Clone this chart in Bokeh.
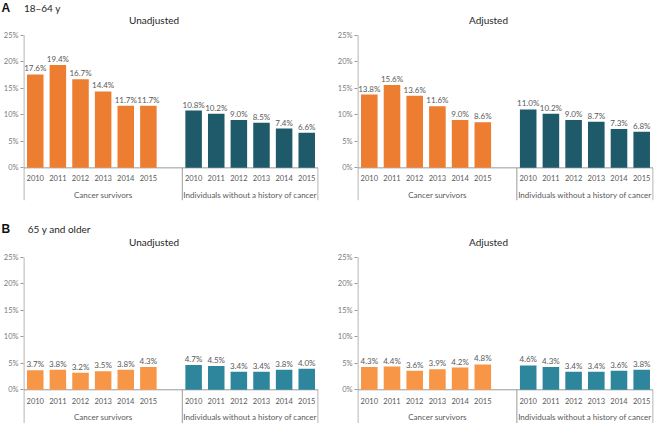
from bokeh.plotting import figure
from bokeh.models import Range1d, FixedTicker, ColumnDataSource, PrintfTickFormatter
from bokeh.layouts import column, row
from bokeh.embed import file_html
from bokeh.resources import INLINE
from bokeh.core.properties import value

# ---------------- data ----------------
years = ["2010", "2011", "2012", "2013", "2014", "2015"]
groups = ["Cancer survivors", "Individuals without a history of cancer"]
y_ticks = [0, 5, 10, 15, 20, 25]

a_unadj_survivors = [17.6, 19.4, 16.7, 14.4, 11.7, 11.7]
a_unadj_others = [10.8, 10.2, 9.0, 8.5, 7.4, 6.6]
a_adj_survivors = [13.8, 15.6, 13.6, 11.6, 9.0, 8.6]
a_adj_others = [11.0, 10.2, 9.0, 8.7, 7.3, 6.8]

b_unadj_survivors = [3.7, 3.8, 3.2, 3.5, 3.8, 4.3]
b_unadj_others = [4.7, 4.5, 3.4, 3.4, 3.8, 4.0]
b_adj_survivors = [4.3, 4.4, 3.6, 3.9, 4.2, 4.8]
b_adj_others = [4.6, 4.3, 3.4, 3.4, 3.6, 3.8]

FONT = "Lato"
AXIS_COL = "#9a9a9a"
TXT_COL = "#595959"


def header(tag, text, h, yc, text_x):
    p = figure(width=654, height=h, x_range=Range1d(0, 654), y_range=Range1d(0, h),
               output_backend="svg", toolbar_location=None,
               x_axis_location=None, y_axis_location=None, min_border=0,
               outline_line_color=None)
    p.grid.visible = False
    p.text(x=[1], y=[h - yc], text=[tag], text_align="left", text_baseline="middle",
           text_font=value("Liberation Sans"), text_font_style="bold",
           text_font_size="12px", text_color="#111111")
    p.text(x=[text_x], y=[h - yc], text=[text], text_align="left",
           text_baseline="middle", text_font=value(FONT),
           text_font_size="10px", text_color="#262626")
    return p


def panel(surv, others, col_s, col_o, title, left_border, right_border,
          height, bottom_border, y0, y1, title_y, year_y, group_y):
    p = figure(width=327, height=height, x_range=Range1d(-0.02, 13.02),
               y_range=Range1d(y0, y1), output_backend="svg",
               toolbar_location=None, x_axis_location=None,
               min_border_left=left_border, min_border_right=right_border,
               min_border_top=0, min_border_bottom=bottom_border,
               outline_line_color=None)
    p.grid.visible = False
    ax = p.yaxis[0]
    ax.ticker = FixedTicker(ticks=y_ticks)
    ax.formatter = PrintfTickFormatter(format="%d%%")
    ax.axis_line_color = None
    ax.major_tick_in = 0
    ax.major_tick_out = 3
    ax.minor_tick_line_color = None
    ax.major_tick_line_color = AXIS_COL
    ax.major_label_text_font = FONT
    ax.major_label_text_font_size = "7.5px"
    ax.major_label_text_color = "#7a7a7a"
    ax.major_label_standoff = 2

    xs = [i + 0.5 for i in range(len(years))] + [7 + i + 0.5 for i in range(len(years))]
    vals = list(surv) + list(others)
    src = ColumnDataSource(dict(
        x=xs, top=vals,
        color=[col_s] * len(surv) + [col_o] * len(others),
        label=[f"{v:.1f}%" for v in vals],
        year=years + years,
        yy=[year_y] * len(xs),
    ))

    # axis lines and group separators
    p.segment(x0=[0, 0, 7, 13], y0=[y0, 0, 0, 0], x1=[0, 13, 7, 13], y1=[25, 0, y0, y0],
              line_color=AXIS_COL, line_width=1)

    p.vbar(x="x", top="top", bottom=0, width=0.73, fill_color="color",
           line_color=None, source=src)
    p.text(x="x", y="top", text="label", source=src, text_align="center",
           text_baseline="alphabetic", y_offset=-6, text_font=value(FONT),
           text_font_size="8px", text_color=TXT_COL)
    p.text(x="x", y="yy", text="year", source=src, text_align="center",
           text_baseline="middle", text_font=value(FONT),
           text_font_size="7.5px", text_color=TXT_COL)
    p.text(x=[3.5, 10], y=[group_y, group_y], text=groups, text_align="center",
           text_baseline="middle", text_font=value(FONT),
           text_font_size="8px", text_color=TXT_COL)
    p.text(x=[5.75], y=[title_y], text=[title], text_align="center",
           text_baseline="middle", text_font=value(FONT),
           text_font_size="10px", text_color="#262626")
    return p


TOP = dict(height=198, bottom_border=12, y0=-6.15, y1=28.89, title_y=27.9,
           year_y=-2.0, group_y=-5.15)
BOT = dict(height=188, bottom_border=0, y0=-6.37, y1=29.16, title_y=27.85,
           year_y=-2.1, group_y=-5.2)

hA = header("A", "18\u201364 y", 14, 7.7, 23.4)
hB = header("B", "65 y and older", 23, 16.4, 27.3)

p1 = panel(a_unadj_survivors, a_unadj_others, "#ED7D31", "#1F5A6A", "Unadjusted",
           21, 9, **TOP)
p2 = panel(a_adj_survivors, a_adj_others, "#ED7D31", "#1F5A6A", "Adjusted",
           30, 1, **TOP)
p3 = panel(b_unadj_survivors, b_unadj_others, "#F79646", "#2E869D", "Unadjusted",
           21, 9, **BOT)
p4 = panel(b_adj_survivors, b_adj_others, "#F79646", "#2E869D", "Adjusted",
           30, 1, **BOT)

layout = column(hA, row(p1, p2), hB, row(p3, p4))
open("out.html", "w").write(file_html(layout, INLINE))
